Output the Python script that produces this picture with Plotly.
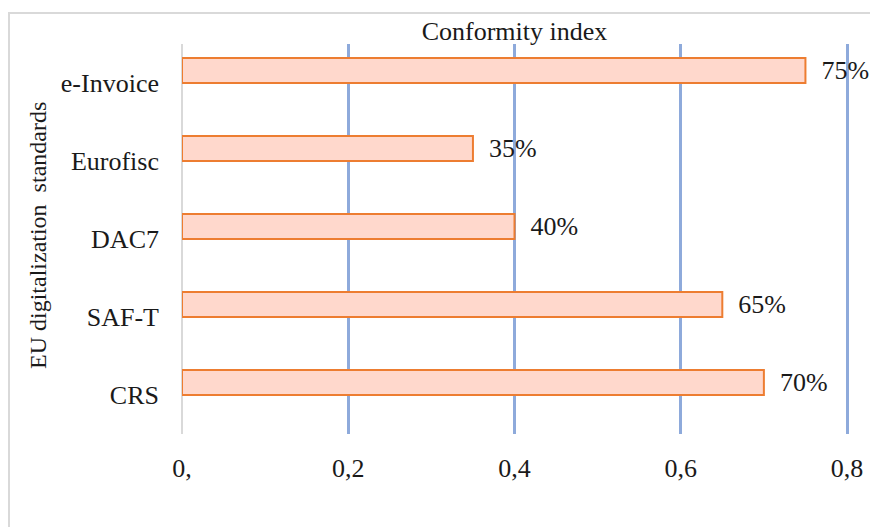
import plotly.graph_objects as go

categories = ["CRS", "SAF-T", "DAC7", "Eurofisc", "e-Invoice"]
values = [0.70, 0.65, 0.40, 0.35, 0.75]
tick_vals = [0, 0.2, 0.4, 0.6, 0.8]
tick_text = ["0,", "0,2", "0,4", "0,6", "0,8"]

FONT = "Liberation Serif, Times New Roman, serif"
FS = 26
labels = ["\u00a0\u00a0" + f"{round(v*100)}%" for v in values]

fig = go.Figure()
fig.add_trace(go.Bar(
    y=categories, x=values, orientation="h",
    width=0.32, offset=0.0,
    marker=dict(color="#FFD8CC", line=dict(color="#ED7D31", width=2)),
    text=labels, textposition="outside", cliponaxis=False,
    constraintext="none",
    textfont=dict(family=FONT, size=FS, color="#1a1a1a"),
    hoverinfo="skip",
))

L, R, T, B = 182, 849, 44, 434
W, H = R - L, B - T
XMAX = 0.8 + 2 / 831.25

fig.update_layout(
    width=870, height=527,
    margin=dict(l=L, r=870 - R, t=T, b=527 - B, autoexpand=False),
    paper_bgcolor="white", plot_bgcolor="white",
    showlegend=False,
    font=dict(family=FONT, size=FS, color="#1a1a1a"),
    title=dict(text="Conformity index", x=(514.5 - L) / W, xref="paper", xanchor="center",
               y=1 - 31/527, yref="container", yanchor="middle",
               font=dict(family=FONT, size=FS, color="#1a1a1a")),
    xaxis=dict(range=[0, XMAX], tickvals=tick_vals, ticktext=tick_text,
               automargin=False,
               showgrid=True, gridcolor="#8EAADB", gridwidth=3,
               zeroline=True, zerolinecolor="#D9D9D9", zerolinewidth=2,
               showline=False, ticks="", ticklabelstandoff=16,
               tickfont=dict(family=FONT, size=FS, color="#1a1a1a")),
    yaxis=dict(type="category", categoryorder="array", categoryarray=categories,
               automargin=False,
               range=[-0.5, 4.5], showgrid=False, zeroline=False, showline=False,
               ticks="", ticklabelstandoff=22,
               tickfont=dict(family=FONT, size=FS, color="#1a1a1a")),
    annotations=[dict(text="EU digitalization\u00a0 standards", textangle=-90,
                      xref="paper", yref="paper", x=(38 - L) / W, y=(B - 236) / H,
                      xanchor="center", yanchor="middle", showarrow=False,
                      font=dict(family=FONT, size=24, color="#1a1a1a"))],
    shapes=[dict(type="rect", xref="paper", yref="paper",
                 x0=(9 - L) / W, x1=(880 - L) / W, y0=(B - 540) / H, y1=(B - 13) / H,
                 line=dict(color="#D9D9D9", width=2), fillcolor="rgba(0,0,0,0)", layer="below")],
)

fig.write_html("out.html", config={"displayModeBar": False},
               post_script="document.body.style.margin='0';")
